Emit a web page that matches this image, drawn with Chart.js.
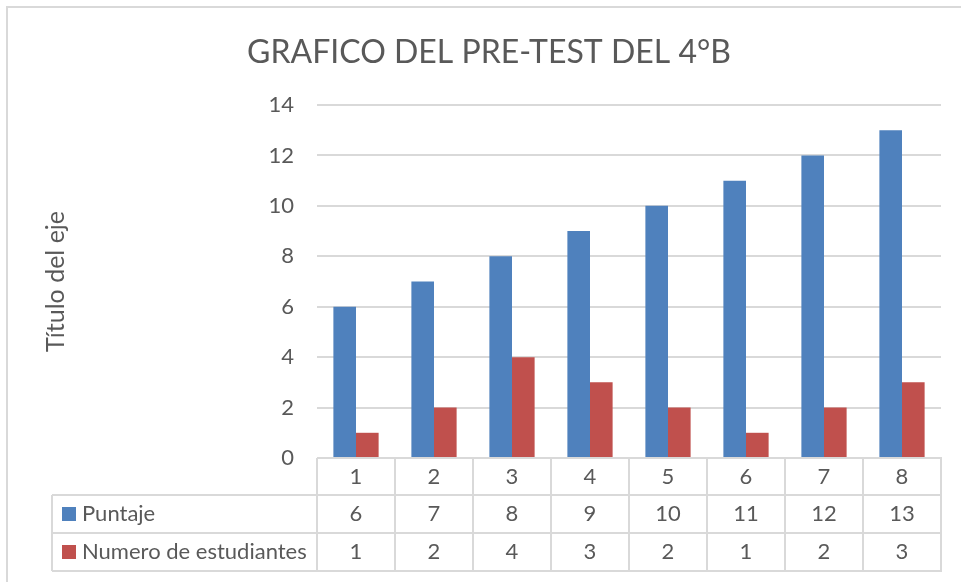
<!DOCTYPE html>
<html>
<head>
<meta charset="utf-8">
<script src="https://cdn.jsdelivr.net/npm/chart.js@4.4.0/dist/chart.umd.min.js"></script>
<style>
  html, body { margin: 0; padding: 0; background: #fff; }
  #wrap { width: 961px; height: 582px; position: relative; }
</style>
</head>
<body>
<div id="wrap"><canvas id="chart" width="961" height="582"></canvas></div>
<script>
// Chart data
const categories = ['1', '2', '3', '4', '5', '6', '7', '8'];
const puntaje = [6, 7, 8, 9, 10, 11, 12, 13];
const estudiantes = [1, 2, 4, 3, 2, 1, 2, 3];
const seriesNames = ['Puntaje', 'Numero de estudiantes'];
const seriesColors = ['#4F81BD', '#C0504D'];
const chartTitle = 'GRAFICO DEL PRE-TEST DEL 4°B';
const axisTitle = 'Título del eje';

const FONT = 'Lato, "Open Sans", sans-serif';
const TEXT = '#595959';
const LINE = '#d9d9d9';

// draws the frame, title and the data table under the plot
const tablePlugin = {
  id: 'dataTable',
  beforeDraw(chart) {
    const ctx = chart.ctx;
    ctx.save();
    ctx.fillStyle = '#fff';
    ctx.fillRect(0, 0, chart.width, chart.height);
    ctx.strokeStyle = LINE;
    ctx.lineWidth = 2;
    ctx.beginPath();
    ctx.moveTo(7, chart.height);
    ctx.lineTo(7, 7);
    ctx.lineTo(chart.width, 7);
    ctx.stroke();

    ctx.fillStyle = TEXT;
    ctx.font = '32px ' + FONT;
    ctx.textAlign = 'center';
    ctx.textBaseline = 'middle';
    ctx.fillText(chartTitle, 489, 53);
    ctx.restore();
  },
  afterDraw(chart) {
    const ctx = chart.ctx;
    const area = chart.chartArea;
    const x = chart.scales.x;
    const n = categories.length;
    const step = (area.right - area.left) / n;
    const rows = [area.bottom, area.bottom + 37, area.bottom + 75, area.bottom + 113];
    const tableLeft = 52;
    const tableRight = area.right + 1;

    ctx.save();
    ctx.strokeStyle = LINE;
    ctx.lineWidth = 2;
    ctx.beginPath();
    ctx.moveTo(area.left, rows[0]);
    ctx.lineTo(tableRight, rows[0]);
    for (let r = 1; r < rows.length; r++) {
      ctx.moveTo(tableLeft, rows[r]);
      ctx.lineTo(tableRight, rows[r]);
    }
    ctx.moveTo(tableLeft, rows[1]);
    ctx.lineTo(tableLeft, rows[3]);
    for (let i = 0; i <= n; i++) {
      const bx = Math.min(area.left + i * step, tableRight);
      ctx.moveTo(bx, rows[0]);
      ctx.lineTo(bx, rows[3]);
    }
    ctx.stroke();

    ctx.fillStyle = TEXT;
    ctx.font = '22px ' + FONT;
    ctx.textAlign = 'center';
    ctx.textBaseline = 'middle';
    const series = [puntaje, estudiantes];
    categories.forEach((c, i) => {
      const cx = x.getPixelForValue(i);
      ctx.fillText(c, cx, (rows[0] + rows[1]) / 2);
      series.forEach((s, k) => {
        ctx.fillText(String(s[i]), cx, (rows[k + 1] + rows[k + 2]) / 2);
      });
    });

    ctx.textAlign = 'left';
    seriesNames.forEach((name, k) => {
      const cy = (rows[k + 1] + rows[k + 2]) / 2;
      ctx.fillStyle = seriesColors[k];
      ctx.fillRect(62, cy - 7, 14, 14);
      ctx.fillStyle = TEXT;
      ctx.fillText(name, 82, cy);
    });
    ctx.restore();
  }
};

new Chart(document.getElementById('chart'), {
  type: 'bar',
  data: {
    labels: categories,
    datasets: [{
      label: seriesNames[0],
      data: puntaje,
      backgroundColor: seriesColors[0],
      categoryPercentage: 0.58,
      barPercentage: 1.0
    }, {
      label: seriesNames[1],
      data: estudiantes,
      backgroundColor: seriesColors[1],
      categoryPercentage: 0.58,
      barPercentage: 1.0
    }]
  },
  options: {
    responsive: false,
    animation: false,
    devicePixelRatio: 1,
    layout: { padding: { left: 0, top: 105, right: 20, bottom: 124 } },
    plugins: {
      legend: { display: false },
      title: { display: false },
      tooltip: { enabled: false }
    },
    scales: {
      x: { display: false },
      y: {
        min: 0,
        max: 14,
        afterFit(scale) { scale.width = 317; },
        ticks: {
          stepSize: 2,
          padding: 23,
          color: TEXT,
          font: { family: FONT, size: 22 }
        },
        grid: { color: LINE, lineWidth: 2, drawTicks: false },
        border: { display: false },
        title: {
          display: true,
          text: axisTitle,
          color: TEXT,
          font: { family: FONT, size: 25 },
          padding: { top: 41, bottom: 0 }
        }
      }
    }
  },
  plugins: [tablePlugin]
});
</script>
</body>
</html>
